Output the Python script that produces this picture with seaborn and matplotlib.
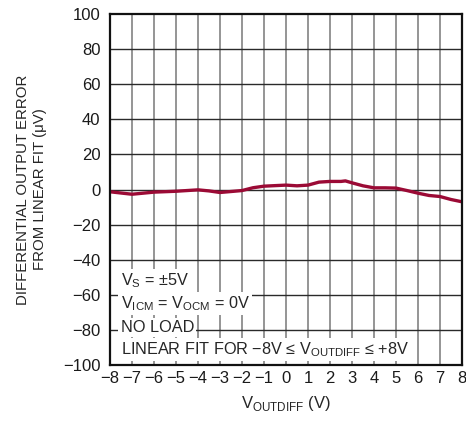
import numpy as np
import pandas as pd
import matplotlib
matplotlib.use('Agg')
import matplotlib.pyplot as plt
import seaborn as sb

# values
vout = [-8, -7, -6, -5, -4, -3.5, -3, -2, -1.5, -1, 0, 0.5, 1, 1.5, 2, 2.5, 2.7,
        3, 3.5, 4, 4.5, 5, 5.5, 6, 6.5, 7, 7.5, 8]
err_uv = [-1.3, -2.7, -1.5, -1.0, -0.2, -0.8, -1.7, -0.6, 1.0, 1.9, 2.5, 2.1, 2.5,
          4.2, 4.6, 4.6, 4.9, 3.8, 2.1, 0.95, 0.95, 0.8, -0.6, -2.1, -3.4, -4.0,
          -5.7, -7.0]

xticks = list(range(-8, 9))
yticks = list(range(-100, 101, 20))
notes = [r'V$_\mathrm{S}$ = ±5V',
         r'V$_\mathrm{ICM}$ = V$_\mathrm{OCM}$ = 0V',
         'NO LOAD',
         r'LINEAR FIT FOR −8V ≤ V$_\mathrm{OUTDIFF}$ ≤ +8V']

sb.set_style('white')
FONT = 'Liberation Sans'
plt.rcParams['font.family'] = [FONT, 'DejaVu Sans']
plt.rcParams['mathtext.fontset'] = 'custom'
plt.rcParams['mathtext.rm'] = FONT
plt.rcParams['axes.unicode_minus'] = True

fs = 12
fig = plt.figure(figsize=(4.66, 4.21), dpi=100)
ax = fig.add_axes([110 / 466, 56 / 421, 352 / 466, 351 / 421])

df = pd.DataFrame({'v': vout, 'e': err_uv})
sb.lineplot(data=df, x='v', y='e', ax=ax, color='#9b0a35', linewidth=2.4, zorder=4)

ax.set_xlim(-8, 8)
ax.set_ylim(-100, 100)
ax.set_xticks(xticks)
ax.set_yticks(yticks)
ax.set_xticklabels([str(t).replace('-', '\u2212') for t in xticks])
ax.set_yticklabels([str(t).replace('-', '\u2212') for t in yticks])
for t in xticks[1:-1]:
    ax.axvline(t, color='#8c8c8c', linewidth=1.3, zorder=1)
for t in yticks[1:-1]:
    ax.axhline(t, color='#2a2a2a', linewidth=1.0, zorder=1)
ax.tick_params(length=0, labelsize=fs, colors='#1a1a1a')
ax.tick_params(axis='y', pad=7)
ax.tick_params(axis='x', pad=4)
for s in ax.spines.values():
    s.set_color('#111111')
    s.set_linewidth(1.6)
    s.set_zorder(5)

ax.set_xlabel(r'V$_\mathrm{OUTDIFF}$ (V)', fontsize=fs, labelpad=6)
ax.set_ylabel('DIFFERENTIAL OUTPUT ERROR\nFROM LINEAR FIT (μV)', fontsize=10.8,
              labelpad=11, linespacing=1.3)

baselines = [0.227, 0.1615, 0.095, 0.031]
for txt, yb in zip(notes, baselines):
    ax.text(0.03, yb, txt, transform=ax.transAxes, fontsize=11.7, va='baseline',
            ha='left', zorder=3,
            bbox=dict(facecolor='white', edgecolor='none', pad=1.5))

fig.savefig('out.png', dpi=100)
